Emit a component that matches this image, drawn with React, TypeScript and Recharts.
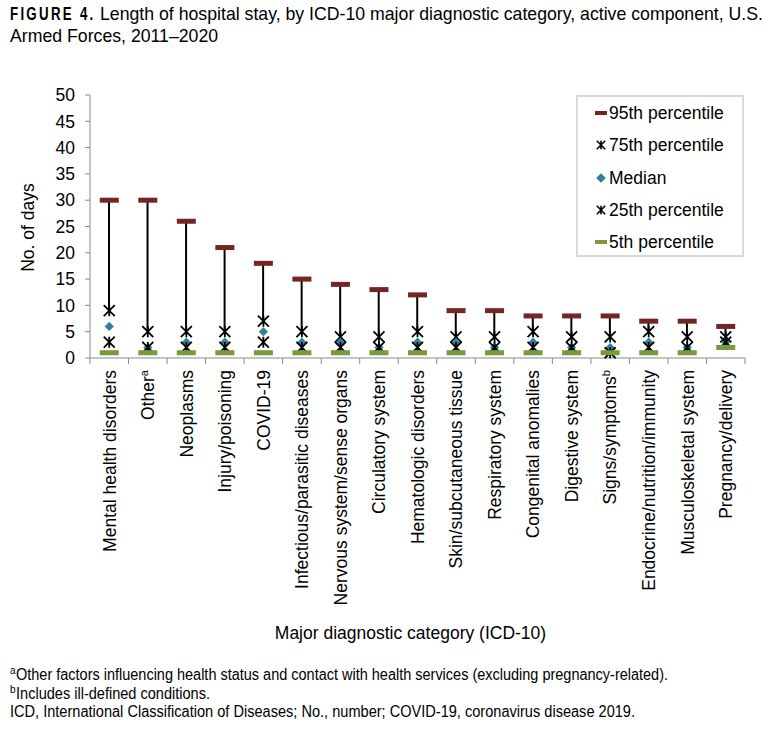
import React from 'react';
import { ComposedChart, Bar, Line, XAxis, YAxis, Legend } from 'recharts';

const categories = [
  'Mental health disorders',
  'Other',
  'Neoplasms',
  'Injury/poisoning',
  'COVID-19',
  'Infectious/parasitic diseases',
  'Nervous system/sense organs',
  'Circulatory system',
  'Hematologic disorders',
  'Skin/subcutaneous tissue',
  'Respiratory system',
  'Congenital anomalies',
  'Digestive system',
  'Signs/symptoms',
  'Endocrine/nutrition/immunity',
  'Musculoskeletal system',
  'Pregnancy/delivery',
];
const categoryNotes = ['', 'a', '', '', '', '', '', '', '', '', '', '', '', 'b', '', '', ''];

const p95 = [30, 30, 26, 21, 18, 15, 14, 13, 12, 9, 9, 8, 8, 8, 7, 7, 6];
const p75 = [9, 5, 5, 5, 7, 5, 4, 4, 5, 4, 4, 5, 4, 4, 5, 4, 4];
const median = [6, 2, 3, 3, 5, 3, 3, 2, 3, 3, 2, 3, 2, 2, 3, 2, 3];
const p25 = [3, 2, 2, 2, 3, 2, 2, 2, 2, 2, 2, 2, 2, 1, 2, 2, 3];
const p5 = [1, 1, 1, 1, 1, 1, 1, 1, 1, 1, 1, 1, 1, 1, 1, 1, 2];

const seriesNames = ['95th percentile', '75th percentile', 'Median', '25th percentile', '5th percentile'];
const yTicks = [0, 5, 10, 15, 20, 25, 30, 35, 40, 45, 50];

const titleLabel = 'FIGURE 4.';
const titleLine1 = 'Length of hospital stay, by ICD-10 major diagnostic category, active component, U.S.';
const titleLine2 = 'Armed Forces, 2011\u20132020';
const xTitle = 'Major diagnostic category (ICD-10)';
const yTitle = 'No. of days';
const footnotes = [
  { mark: 'a', text: 'Other factors influencing health status and contact with health services (excluding pregnancy-related).', len: 652 },
  { mark: 'b', text: 'Includes ill-defined conditions.', len: 194 },
  { mark: '', text: 'ICD, International Classification of Diseases; No., number; COVID-19, coronavirus disease 2019.', len: 625 },
];

const C95 = '#722626';
const C5 = '#789a3c';
const CMED = '#2f8299';
const AXIS = '#898989';
const FONT = '"Liberation Sans", Arial, Helvetica, sans-serif';
const FS = 17.5;

const W = 775;
const H = 732;
const M = { top: 95, right: 30, left: 0, bottom: 84 };
const Y_AXIS_W = 90;
const X_AXIS_H = 290;
const PLOT_LEFT = M.left + Y_AXIS_W;
const PLOT_RIGHT = W - M.right;
const BAND = (PLOT_RIGHT - PLOT_LEFT) / categories.length;

const data = categories.map((name, i) => ({
  name,
  note: categoryNotes[i],
  p95: p95[i],
  p75: p75[i],
  median: median[i],
  p25: p25[i],
  p5: p5[i],
  range: [p75[i], p95[i]],
}));

const dashDot = (color: string, tag: string) => (props: any) => {
  const { cx, cy, index } = props;
  if (cx == null || cy == null) return <g key={`${tag}${index}`} />;
  return <rect key={`${tag}${index}`} x={cx - 9.5} y={cy - 2.5} width={19} height={5} fill={color} />;
};

const starPath = (cx: number, cy: number, r: number) =>
  `M${cx - r},${cy - r}L${cx + r},${cy + r}M${cx + r},${cy - r}L${cx - r},${cy + r}M${cx},${cy - r}L${cx},${cy + r}`;

const starDot = (tag: string) => (props: any) => {
  const { cx, cy, index } = props;
  if (cx == null || cy == null) return <g key={`${tag}${index}`} />;
  return <path key={`${tag}${index}`} d={starPath(cx, cy, 5.5)} stroke="#000" strokeWidth={1.8} fill="none" />;
};

const diamondPath = (cx: number, cy: number, r: number) =>
  `M${cx},${cy - r}L${cx + r},${cy}L${cx},${cy + r}L${cx - r},${cy}Z`;

const diamondDot = (props: any) => {
  const { cx, cy, index } = props;
  if (cx == null || cy == null) return <g key={`m${index}`} />;
  return <path key={`m${index}`} d={diamondPath(cx, cy, 4.6)} fill={CMED} />;
};

const CategoryTick = (props: any) => {
  const { x, y, payload, index } = props;
  const i = payload && payload.index != null ? payload.index : index;
  const axisY = y - 8;
  const note = categoryNotes[i];
  return (
    <g>
      <line x1={x - BAND / 2} x2={x - BAND / 2} y1={axisY} y2={axisY + 6} stroke={AXIS} />
      {i === categories.length - 1 && (
        <line x1={x + BAND / 2} x2={x + BAND / 2} y1={axisY} y2={axisY + 6} stroke={AXIS} />
      )}
      <text
        transform={`translate(${x},${y}) rotate(-90)`}
        x={-4}
        y={0}
        dy="0.36em"
        textAnchor="end"
        fill="#000"
        fontSize={FS}
        fontFamily={FONT}
      >
        {payload.value}
        {note ? (
          <tspan fontSize={11} dy="-0.55em">
            {note}
          </tspan>
        ) : null}
      </text>
    </g>
  );
};

const LegendMarker = ({ i }: { i: number }) => {
  const cx = 7;
  const cy = 10;
  let shape: any = null;
  if (i === 0) shape = <rect x={cx - 6} y={cy - 2} width={12} height={4} fill={C95} />;
  else if (i === 1 || i === 3) shape = <path d={starPath(cx, cy, 4.2)} stroke="#000" strokeWidth={1.6} fill="none" />;
  else if (i === 2) shape = <path d={diamondPath(cx, cy, 4.8)} fill={CMED} />;
  else shape = <rect x={cx - 6} y={cy - 2} width={12} height={4} fill={C5} />;
  return (
    <svg width={14} height={20} style={{ position: 'absolute', left: 15.5, top: 0 }}>
      {shape}
    </svg>
  );
};

const LegendBox = () => (
  <div
    style={{
      position: 'relative',
      width: 168,
      height: 162,
      border: '2px solid #d9d9d9',
      boxSizing: 'border-box',
      background: '#fff',
      fontFamily: FONT,
      fontSize: FS,
      color: '#000',
    }}
  >
    {seriesNames.map((s, i) => (
      <div
        key={s}
        style={{ position: 'absolute', left: 0, top: 16.3 + i * 32.1 - 10, height: 20, width: 160 }}
      >
        <LegendMarker i={i} />
        <span style={{ position: 'absolute', left: 31, top: 0, lineHeight: '20px', whiteSpace: 'nowrap' }}>{s}</span>
      </div>
    ))}
  </div>
);

const YTitle = (props: any) => {
  const vb = props.viewBox || {};
  const cy = vb.y != null && vb.height != null ? vb.y + vb.height / 2 + 1 : 227;
  const cx = 28;
  return (
    <text
      x={cx}
      y={cy}
      transform={`rotate(-90, ${cx}, ${cy})`}
      textAnchor="middle"
      dy="0.36em"
      fill="#000"
      fontSize={FS}
      fontFamily={FONT}
    >
      {yTitle}
    </text>
  );
};

export default function App() {
  return (
    <div style={{ position: 'absolute', left: 0, top: 0, width: W, height: H, background: '#fff', overflow: 'hidden' }}>
      <svg width={W} height={H} style={{ position: 'absolute', left: 0, top: 0 }}>
        <g transform="translate(10,20) scale(0.76,1.02)">
          <text x={0} y={0} fontSize={17.5} fontFamily={FONT} fontWeight="bold" letterSpacing={3} fill="#000">
            {titleLabel}
          </text>
        </g>
        <text x={100} y={20} fontSize={17.7} fontFamily={FONT} fill="#000">
          {titleLine1}
        </text>
        <text x={10} y={42} fontSize={17.7} fontFamily={FONT} fill="#000">
          {titleLine2}
        </text>
        {footnotes.map((f, i) => (
          <g key={i}>
            {f.mark ? (
              <text x={10} y={674 + i * 18.5} fontSize={10} fontFamily={FONT} fill="#000">
                {f.mark}
              </text>
            ) : null}
            <text
              x={f.mark ? 16 : 10}
              y={680 + i * 18.5}
              fontSize={16}
              fontFamily={FONT}
              fill="#000"
              textLength={f.len}
              lengthAdjust="spacingAndGlyphs"
            >
              {f.text}
            </text>
          </g>
        ))}
      </svg>
      <div style={{ position: 'absolute', left: 0, top: 0 }}>
        <ComposedChart width={W} height={H} data={data} margin={M}>
          <XAxis
            dataKey="name"
            interval={0}
            tick={<CategoryTick />}
            tickLine={false}
            tickSize={6}
            tickMargin={2}
            axisLine={{ stroke: AXIS }}
            height={X_AXIS_H}
            label={{ value: xTitle, position: 'insideBottom', offset: 9, fill: '#000', fontSize: FS, fontFamily: FONT, dx: -7 }}
          />
          <YAxis
            type="number"
            domain={[0, 50]}
            ticks={yTicks}
            interval={0}
            width={Y_AXIS_W}
            tick={{ fill: '#000', fontSize: FS, fontFamily: FONT }}
            tickLine={{ stroke: AXIS }}
            tickSize={5}
            tickMargin={10}
            axisLine={{ stroke: AXIS }}
            label={<YTitle />}
          />
          <Bar dataKey="range" barSize={2} fill="#000" isAnimationActive={false} legendType="none" />
          <Line dataKey="p95" stroke="none" dot={dashDot(C95, 'h')} activeDot={false} isAnimationActive={false} legendType="none" />
          <Line dataKey="p75" stroke="none" dot={starDot('u')} activeDot={false} isAnimationActive={false} legendType="none" />
          <Line dataKey="median" stroke="none" dot={diamondDot} activeDot={false} isAnimationActive={false} legendType="none" />
          <Line dataKey="p25" stroke="none" dot={starDot('l')} activeDot={false} isAnimationActive={false} legendType="none" />
          <Line dataKey="p5" stroke="none" dot={dashDot(C5, 'g')} activeDot={false} isAnimationActive={false} legendType="none" />
          <Legend
            layout="vertical"
            align="center"
            verticalAlign="middle"
            wrapperStyle={{ left: 576, top: 95, width: 168, height: 162 }}
            content={() => <LegendBox />}
          />
        </ComposedChart>
      </div>
    </div>
  );
}
